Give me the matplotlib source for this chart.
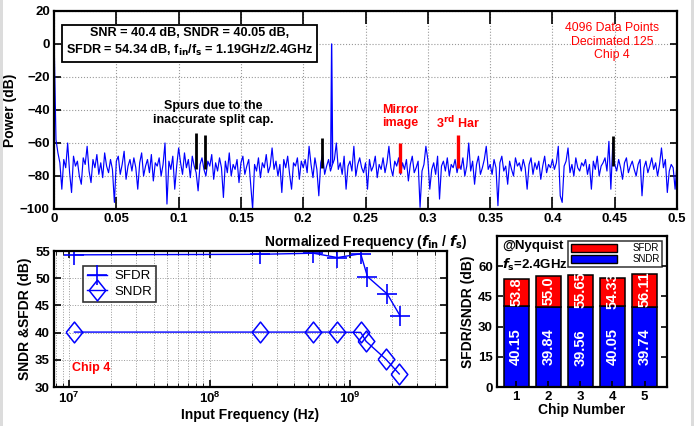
import matplotlib

matplotlib.use("Agg")

import matplotlib.pyplot as plt
import numpy as np
from matplotlib.patches import Patch, Rectangle
from matplotlib.ticker import LogLocator, NullFormatter

plt.rcParams["font.family"] = ["Liberation Sans", "DejaVu Sans"]
plt.rcParams["font.weight"] = "bold"
plt.rcParams["axes.labelweight"] = "bold"
plt.rcParams["mathtext.default"] = "regular"

BLUE = "#0000FF"
RED = "#FF0000"

# ---- spectrum (chip 4, fin/fs = 1.19GHz/2.4GHz) ----
noise_db = [
    5, -58, -66, -72, -88, -70, -75, -60, -78, -90, -68, -74, -71, -80, -85, -69,
    -73, -62, -77, -84, -70, -75, -67, -79, -72, -81, -66, -74, -78, -70, -76, -96,
    -71, -68, -79, -73, -65, -82, -74, -70, -77, -69, -75, -88, -72, -66, -80, -74,
    -70, -78, -67, -83, -72, -74, -69, -80, -73, -60, -97, -71, -76, -68, -88, -74,
    -63, -72, -79, -66, -75, -70, -81, -68, -74, -78, -89, -73, -69, -76, -80, -71,
    -74, -67, -82, -72, -77, -69, -75, -93, -71, -78, -66, -80, -73, -76, -70, -84,
    -72, -68, -79, -74, -70, -85, -100, -73, -77, -69, -81, -72, -75, -67, -78, -74,
    -63, -76, -71, -80, -73, -90, -70, -75, -68, -79, -88, -72, -74, -69, -82, -71,
    -75, -70, -78, -62, -73, -81, -69, -76, -92, -72, -67, -79, -74, -70, -77, -73,
    -70, -60, -76, -72, -79, -68, -88, -74, -71, -77, -62, -80, -73, -69, -75, -78,
    -72, -88, -70, -77, -74, -68, -81, -73, -76, -69, -78, -72, -62, -75, -80, -71,
    -74, -69, -79, -72, -76, -70, -83, -73, -68, -78, -75, -71, -99, -77, -73, -62,
    -70, -88, -76, -72, -79, -68, -94, -74, -71, -77, -69, -80, -73, -75, -70, -78,
    -72, -76, -69, -80, -74, -60, -77, -71, -85, -73, -68, -79, -75, -70, -62, -76,
    -73, -79, -70, -75, -98, -72, -68, -77, -74, -85, -71, -76, -80, -69, -74, -72,
    -77, -70, -75, -88, -73, -69, -79, -72, -76, -71, -82, -74, -68, -78, -73, -75,
    -70, -76, -72, -62, -92, -96, -74, -71, -63, -78, -73, -80, -69, -75, -77, -72,
    -74, -70, -79, -73, -88, -71, -76, -68, -80, -74, -72, -69, -77, -59, -88, -60,
    -73, -77, -70, -75, -82, -72, -69, -78, -74, -71, -76, -80, -73, -70, -92, -75,
    -71, -78, -74, -69, -76, -72, -80, -73, -63, -75, -70, -90, -77, -73, -75, -88,
    -72,
]
freq_norm = np.linspace(0, 0.5, len(noise_db))

tone_f = [0.2220, 0.2228, 0.2236]
tone_db = [-74, 0, -72]

split_spur_f = [0.1137, 0.1212, 0.2150, 0.4489]
split_spur_top = [-54, -55, -57, -56]
split_spur_bot = [-76, -76, -75, -74]

red_spur_f = [0.2777, 0.3242]
red_spur_top = [-60, -55]
red_spur_bot = [-78, -75]

# ---- SNDR / SFDR vs input frequency ----
fin_sfdr = [1.09e7, 2.29e8, 5.48e8, 8.13e8, 1.19e9, 1.33e9, 1.84e9, 2.27e9]
sfdr_db = [54.3, 54.4, 54.6, 53.8, 54.5, 50.3, 47.1, 43.1]
fin_sndr = [1.09e7, 2.29e8, 5.48e8, 8.13e8, 1.19e9, 1.30e9, 1.80e9, 2.24e9]
sndr_db = [40.1, 40.1, 40.1, 40.1, 40.05, 38.4, 35.1, 32.4]

# ---- per-chip at Nyquist ----
chips = [1, 2, 3, 4, 5]
chip_sndr = [40.15, 39.84, 39.56, 40.05, 39.74]
chip_sfdr = [53.8, 55.0, 55.65, 54.33, 56.11]
chip_sfdr_labels = ["53.8", "55.0", "55.65", "54.33", "56.11"]

DIAMOND = [(-0.8, 0), (0, 1), (0.8, 0), (0, -1), (-0.8, 0)]


def style_box(ax):
    for s in ax.spines.values():
        s.set_linewidth(1.6)
    ax.tick_params(direction="in", top=True, right=True, width=1.2,
                   labelsize=9.5, pad=3)
    for lab in ax.get_xticklabels() + ax.get_yticklabels():
        lab.set_fontweight("bold")


fig = plt.figure(figsize=(6.99, 4.26), dpi=100)
# light grey screenshot borders
fig.patches.append(Rectangle((0, 0), 0.005, 1, transform=fig.transFigure,
                             fc="#dcdcdc", ec="none"))
fig.patches.append(Rectangle((0.988, 0), 0.005, 1, transform=fig.transFigure,
                             fc="#dcdcdc", ec="none"))

# spectrum
ax = fig.add_axes([0.0773, 0.5094, 0.8913, 0.4648])
ax.plot(freq_norm, noise_db, color=BLUE, lw=0.85)
ax.plot(tone_f, tone_db, color=BLUE, lw=1.0)
ax.vlines(split_spur_f, split_spur_bot, split_spur_top, color="black", lw=2.0, zorder=3)
ax.vlines(red_spur_f, red_spur_bot, red_spur_top, color=RED, lw=2.4, zorder=3)
ax.set_xlim(0, 0.5)
ax.set_ylim(-100, 20)
ax.set_xticks(np.arange(0, 0.51, 0.05))
ax.set_xticklabels(["0", "0.05", "0.1", "0.15", "0.2", "0.25", "0.3", "0.35",
                    "0.4", "0.45", "0.5"])
ax.set_yticks(np.arange(-100, 21, 20))
ax.grid(True, color="#999999", ls=":", lw=0.8)
style_box(ax)
ax.tick_params(axis="x", length=9)
ax.tick_params(axis="y", length=5)
ax.set_ylabel("Power (dB)", fontsize=10, labelpad=2)
ax.set_xlabel("Normalized Frequency ($\\mathit{f}_{\\rm in}$ / $\\mathit{f}_{\\rm s}$)",
              fontsize=10, labelpad=6)
ax.text(0.1087, 0.8,
        "SNR = 40.4 dB, SNDR = 40.05 dB,\nSFDR = 54.34 dB, f$_{\\rm in}$/f$_{\\rm s}$ = 1.19GHz/2.4GHz",
        ha="center", va="center", fontsize=9.1, fontweight="bold", linespacing=1.3,
        bbox=dict(boxstyle="square,pad=0.32", fc="white", ec="black", lw=1.3))
ax.text(0.1275, -42, "Spurs due to the\ninaccurate split cap.", ha="center", va="center",
        fontsize=9, fontweight="bold", linespacing=1.2)
ax.text(0.2777, -44, "Mirror\nimage", ha="center", va="center", color=RED,
        fontsize=9, fontweight="bold", linespacing=1.2)
ax.text(0.3245, -48, "3$^{\\rm rd}$ Har", ha="center", va="center", color=RED,
        fontsize=9, fontweight="bold")
ax.text(0.448, 1.5, "4096 Data Points\nDecimated 125\nChip 4", ha="center", va="center",
        color=RED, fontsize=8.8, fontweight="normal", linespacing=1.2)

# SNDR/SFDR vs fin
ax2 = fig.add_axes([0.0773, 0.0915, 0.5622, 0.3192])
ax2.semilogx(fin_sfdr, sfdr_db, color=BLUE, lw=1.0, marker="+", ms=14, mew=1.2,
             label="SFDR")
ax2.semilogx(fin_sndr, sndr_db, color=BLUE, lw=1.0, marker=DIAMOND, ms=15, mew=1.1,
             mfc="none", label="SNDR")
ax2.set_xlim(7.8e6, 4.9e9)
ax2.set_ylim(30, 55)
ax2.set_yticks(np.arange(30, 56, 5))
ax2.xaxis.set_minor_locator(LogLocator(base=10, subs=np.arange(2, 10), numticks=20))
ax2.xaxis.set_minor_formatter(NullFormatter())
ax2.grid(True, which="both", color="#999999", ls=":", lw=0.7)
style_box(ax2)
ax2.tick_params(which="major", length=5)
ax2.tick_params(which="minor", direction="in", top=True, length=3)
ax2.set_xlabel("Input Frequency (Hz)", fontsize=10, labelpad=1)
ax2.set_ylabel("SNDR &SFDR (dB)", fontsize=10, labelpad=2)
leg2 = ax2.legend(loc="upper left", bbox_to_anchor=(0.074, 0.89), borderaxespad=0,
                  frameon=True, fancybox=False, edgecolor="black", handlelength=1.5,
                  borderpad=0.3, labelspacing=0.25, handletextpad=0.6,
                  prop={"weight": "normal", "size": 9.5})
leg2.get_frame().set_linewidth(1.2)
ax2.text(0.045, 0.12, "Chip 4", transform=ax2.transAxes, color=RED, fontsize=9,
         fontweight="bold")

# per-chip bars
ax3 = fig.add_axes([0.711, 0.0915, 0.2432, 0.3545])
ax3.bar(chips, chip_sndr, width=0.78, color=BLUE, edgecolor="black", lw=1.1)
ax3.bar(chips, np.array(chip_sfdr) - np.array(chip_sndr), bottom=chip_sndr, width=0.78,
        color=RED, edgecolor="black", lw=1.1)
for c, lo, hi, lab in zip(chips, chip_sndr, chip_sfdr, chip_sfdr_labels):
    ax3.text(c, lo / 2, f"{lo:.2f}", rotation=90, ha="center", va="center",
             color="white", fontsize=10.5, fontweight="bold")
    ax3.text(c, (lo + hi) / 2 + 0.5, lab, rotation=90, ha="center", va="center",
             color="white", fontsize=10.5, fontweight="bold")
ax3.set_xlim(0.4, 5.7)
ax3.set_ylim(0, 75)
ax3.set_xticks(chips)
ax3.set_yticks([0, 15, 30, 45, 60])
style_box(ax3)
ax3.tick_params(length=4, top=False)
ax3.set_xlabel("Chip Number", fontsize=10, labelpad=0)
ax3.set_ylabel("SFDR/SNDR (dB)", fontsize=10, labelpad=2)
ax3.text(0.03, 0.975, "@Nyquist", transform=ax3.transAxes, fontsize=9.5,
         fontweight="bold", va="top")
ax3.text(0.03, 0.86, "$\\mathit{f}_{\\rm s}$=2.4GHz", transform=ax3.transAxes, fontsize=9.5,
         fontweight="bold", va="top")
handles = [Patch(fc=RED, ec="black", label="SFDR"), Patch(fc=BLUE, ec="black", label="SNDR")]
leg = ax3.legend(handles=handles, loc="upper right", bbox_to_anchor=(0.97, 0.97),
                 borderaxespad=0, fancybox=False, edgecolor="black", handlelength=4.8,
                 handleheight=0.9, borderpad=0.25, labelspacing=0.15,
                 handletextpad=1.5, prop={"weight": "normal", "size": 7})
leg.get_frame().set_linewidth(1.1)

fig.savefig("out.png", dpi=100)
